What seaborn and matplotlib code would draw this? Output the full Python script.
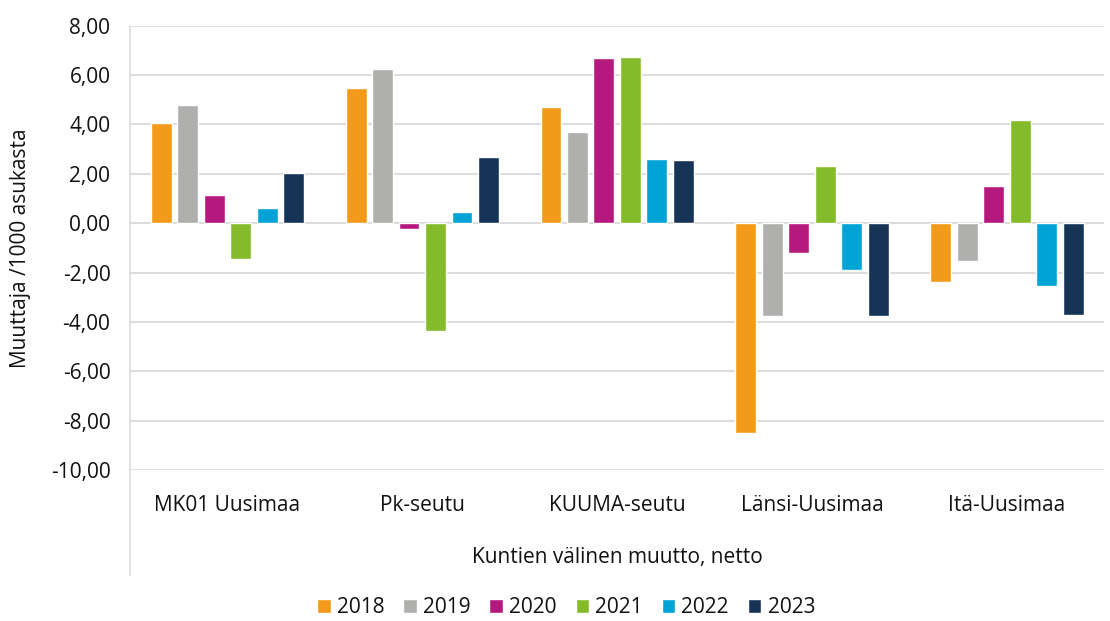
import matplotlib
matplotlib.use("Agg")
import matplotlib.pyplot as plt
import matplotlib.ticker as mticker
import seaborn as sns
import pandas as pd

# data
regions = ["MK01 Uusimaa", "Pk-seutu", "KUUMA-seutu", "Länsi-Uusimaa", "Itä-Uusimaa"]
years = ["2018", "2019", "2020", "2021", "2022", "2023"]
v2018 = [4.07, 5.47, 4.72, -8.49, -2.38]
v2019 = [4.80, 6.24, 3.68, -3.75, -1.52]
v2020 = [1.15, -0.22, 6.69, -1.20, 1.50]
v2021 = [-1.45, -4.36, 6.72, 2.30, 4.16]
v2022 = [0.61, 0.47, 2.59, -1.90, -2.56]
v2023 = [2.04, 2.70, 2.54, -3.75, -3.70]
colors = ["#F39A1A", "#AFAFAE", "#B5197E", "#84BB2A", "#00A3D6", "#163556"]

rows = []
for year, vals in zip(years, [v2018, v2019, v2020, v2021, v2022, v2023]):
    for reg, v in zip(regions, vals):
        rows.append((reg, year, v))
df = pd.DataFrame(rows, columns=["Alue", "Vuosi", "Arvo"])

sns.set_theme(style="white")
plt.rcParams["font.family"] = ["Open Sans", "DejaVu Sans"]

fs = 15
txt = "#111111"

fig = plt.figure(figsize=(11.1, 6.21), dpi=100)
ax = fig.add_axes([0.117, 0.243, 0.878, 0.7157])

sns.barplot(data=df, x="Alue", y="Arvo", hue="Vuosi", palette=colors,
            saturation=1, width=0.815, ax=ax, legend=True)

# narrow each bar a little so there is a gap between them
for p in ax.patches:
    w = p.get_width()
    if w > 0:
        p.set_x(p.get_x() + w * 0.105)
        p.set_width(w * 0.79)

ax.set_ylim(-10, 8)
ax.set_xlim(-0.5, 4.5)
ax.set_yticks(range(-10, 9, 2))
ax.yaxis.set_major_formatter(mticker.FuncFormatter(lambda v, _: f"{v:.2f}".replace(".", ",")))
ax.yaxis.grid(True, color="#DDDDDD", linewidth=1.5)
ax.set_axisbelow(True)
for s in ["top", "right", "bottom", "left"]:
    ax.spines[s].set_visible(False)

# category axis line running down past the labels
ax.plot([0, 0], [1, -0.236], transform=ax.transAxes, color="#DDDDDD",
        linewidth=1.2, clip_on=False)

ax.tick_params(axis="both", length=0, labelsize=fs, colors=txt)
ax.tick_params(axis="y", pad=14)
ax.tick_params(axis="x", pad=18)
ax.set_xlabel("Kuntien välinen muutto, netto", fontsize=fs, color=txt, labelpad=22)
ax.set_ylabel("Muuttaja /1000 asukasta", fontsize=fs, color=txt, labelpad=14)

leg = ax.legend(loc="center", bbox_to_anchor=(0.51, 0.021), bbox_transform=fig.transFigure,
                ncol=6, frameon=False, fontsize=fs, handlelength=0.65, handleheight=0.65,
                handletextpad=0.3, columnspacing=0.9)
for t in leg.get_texts():
    t.set_color(txt)

fig.savefig("out.png", dpi=100)
